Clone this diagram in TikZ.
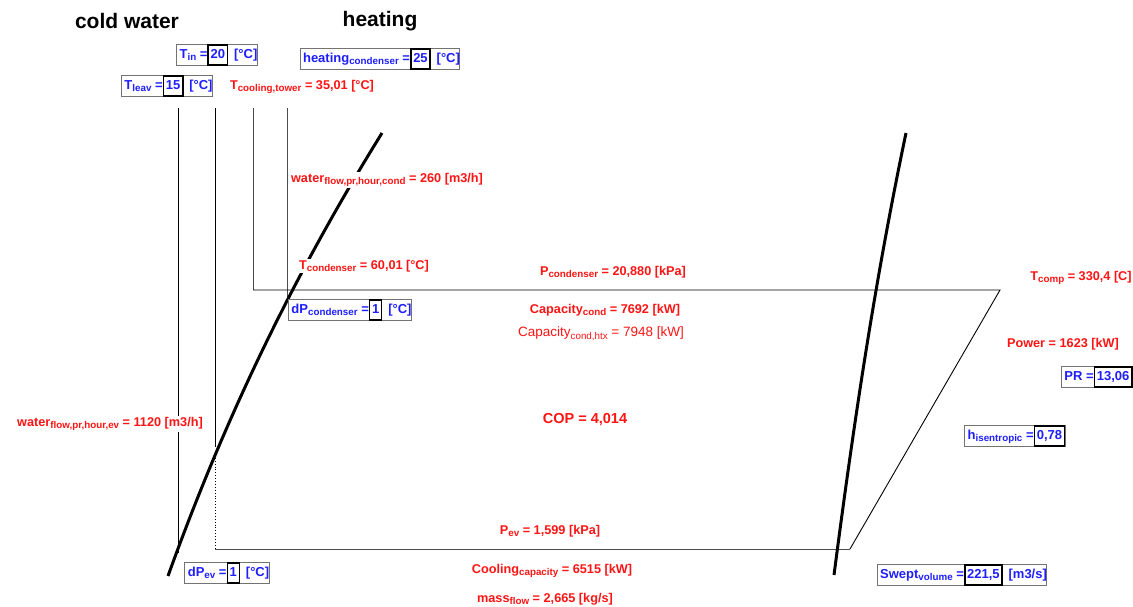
\documentclass[tikz,border=0pt]{standalone}
\usepackage{fontspec}
\setmainfont{Liberation Sans}
\usetikzlibrary{positioning}
\definecolor{labred}{RGB}{255,20,20}
\definecolor{labblue}{RGB}{30,30,255}
\newcommand{\sbs}[1]{\raisebox{-0.4ex}{\fontsize{9.8}{10}\selectfont #1}}
\newcommand{\valbox}[1]{{\setlength{\fboxrule}{1.6pt}\setlength{\fboxsep}{1.6pt}\fcolorbox{black}{white}{\strut #1}}}

\begin{document}
\begin{tikzpicture}[x=1pt, y=-1pt,
    heading/.style={font=\fontsize{21}{24}\selectfont\bfseries},
    redlbl/.style={text=labred, fill=white, inner sep=1pt, font=\fontsize{12.7}{15}\selectfont\bfseries},
    bluebox/.style={draw=black!55, line width=1pt, fill=white, text=labblue, inner sep=0pt, font=\fontsize{13}{15}\selectfont\bfseries},
    dome/.style={line width=3pt},
    pipe/.style={line width=0.9pt}]
    \useasboundingbox (0,0) rectangle (1133,606);

    % Headings
    \node[heading] (hcold) at (127,21) {cold water};
    \node[heading] (hheat) at (380,21) {heating};

    % Water lines
    \draw[pipe] (178,108) -- (178,553);
    \draw[pipe] (215,108) -- (215,447);
    \draw[pipe, dotted] (215,452) -- (215,549);
    \draw[pipe, black!70] (253,108) -- (253,290);
    \draw[pipe, black!70] (287,108) -- (287,298);

    % Cycle
    \coordinate (cond1) at (253,290);
    \coordinate (cond2) at (1000,290);
    \coordinate (ev1) at (850,549);
    \coordinate (ev2) at (215,549);
    \draw[pipe] (cond1) -- (cond2) -- (ev1);
    \draw[pipe, black!70] (ev1) -- (ev2);

    % Saturation lines
    \draw[dome] (382,133) .. controls (289,283) and (222,426) .. (168,576);
    \draw[dome] (906,133) .. controls (874.5,283) and (853.5,425) .. (834,575);

    % Inputs
    \node[bluebox] (tin) at (217,55) {\hspace{3pt}T\sbs{in} =\valbox{20}\, [°C]\hspace{3pt}};
    \node[bluebox] (heatcond) at (380,59) {\hspace{3pt}heating\sbs{condenser} =\valbox{25}\, [°C]\hspace{3pt}};
    \node[bluebox] (tleav) at (167,86) {\hspace{3pt}T\sbs{leav} =\valbox{15}\, [°C]\hspace{3pt}};
    \node[bluebox] (dpcond) at (350,310) {\hspace{3pt}dP\sbs{condenser} =\valbox{1}\, [°C]\hspace{3pt}};
    \node[bluebox] (pr) at (1097,377) {\hspace{3pt}PR =\valbox{13,06}};
    \node[bluebox] (hisen) at (1015,436) {\hspace{3pt}h\sbs{isentropic} =\valbox{0,78}};
    \node[bluebox] (dpev) at (227,573) {\hspace{3pt}dP\sbs{ev} =\valbox{1}\, [°C]\hspace{3pt}};
    \node[bluebox] (swept) at (962,575) {\hspace{3pt}Swept\sbs{volume} =\valbox{221,5}\, [m3/s]\hspace{3pt}};

    % Results
    \node[redlbl] (ttower) at (302,87) {T\sbs{cooling,tower} = 35,01 [°C]};
    \node[redlbl] (wcond) at (387,180) {water\sbs{flow,pr,hour,cond} = 260 [m3/h]};
    \node[redlbl] (tcond) at (364,266) {T\sbs{condenser} = 60,01 [°C]};
    \node[redlbl] (pcond) at (613,272) {P\sbs{condenser} = 20,880 [kPa]};
    \node[redlbl] (capcond) at (605,310) {Capacity\sbs{cond} = 7692 [kW]};
    \node[redlbl, font=\fontsize{13.5}{15}\selectfont] (caphtx) at (601,334) {Capacity\sbs{cond,htx} = 7948 [kW]};
    \node[redlbl] (tcomp) at (1081,278) {T\sbs{comp} = 330,4 [C]};
    \node[redlbl] (power) at (1063,344) {Power = 1623 [kW]};
    \node[redlbl, font=\fontsize{14.5}{16}\selectfont\bfseries] (cop) at (585,420) {COP = 4,014};
    \node[redlbl] (wev) at (110,424) {water\sbs{flow,pr,hour,ev} = 1120 [m3/h]};
    \node[redlbl] (pev) at (550,531) {P\sbs{ev} = 1,599 [kPa]};
    \node[redlbl] (cooling) at (552,571) {Cooling\sbs{capacity} = 6515 [kW]};
    \node[redlbl] (mflow) at (545,599) {mass\sbs{flow} = 2,665 [kg/s]};
\end{tikzpicture}
\end{document}
